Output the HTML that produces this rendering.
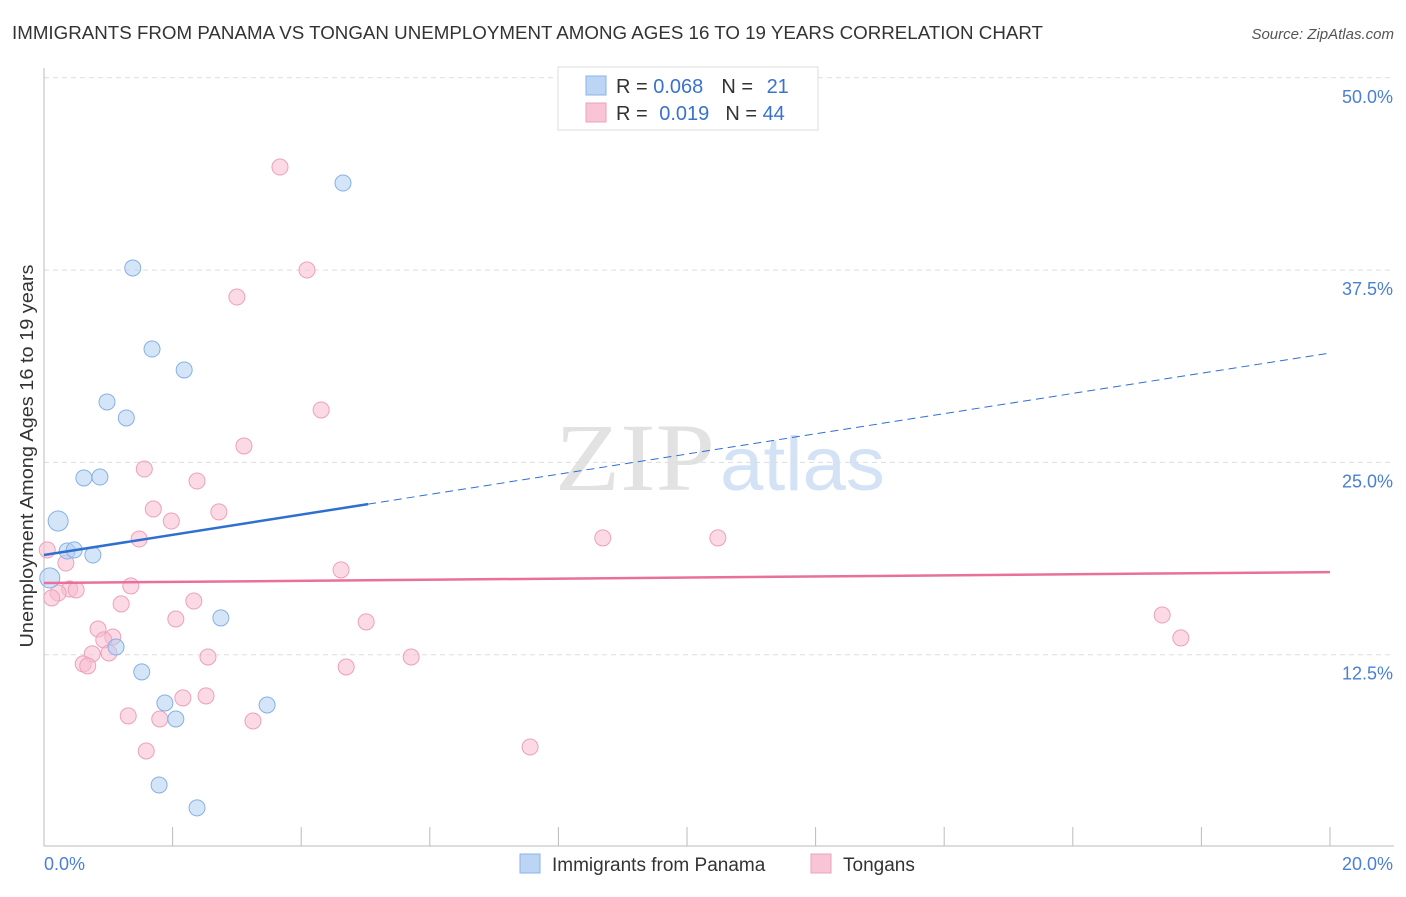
<!DOCTYPE html>
<html><head><meta charset="utf-8"><style>
body{margin:0;background:#fff;font-family:"Liberation Sans",sans-serif;}
svg text{font-family:"Liberation Sans",sans-serif;}
</style></head><body>
<svg id="chart" width="1406" height="892" xmlns="http://www.w3.org/2000/svg">
<text x="12" y="39" font-size="18" fill="#333" textLength="1031" lengthAdjust="spacingAndGlyphs">IMMIGRANTS FROM PANAMA VS TONGAN UNEMPLOYMENT AMONG AGES 16 TO 19 YEARS CORRELATION CHART</text>
<text x="1394" y="39" font-size="15" fill="#555" text-anchor="end" font-style="italic">Source: ZipAtlas.com</text>
<g>
<text x="555" y="490" font-size="96" fill="#e2e2e2" font-family="Liberation Serif" textLength="160" lengthAdjust="spacingAndGlyphs" style="font-family:'Liberation Serif',serif">ZIP</text>
<text x="720" y="490" font-size="76" fill="#d3e2f5" textLength="165" lengthAdjust="spacingAndGlyphs">atlas</text>
</g>
<g id="grid"></g>
<g id="axes"></g>
<g id="marks"></g>
<text transform="translate(33,456) rotate(-90)" font-size="18" fill="#333" text-anchor="middle" textLength="383" lengthAdjust="spacingAndGlyphs">Unemployment Among Ages 16 to 19 years</text>
<g>
<rect x="558" y="67" width="260" height="63" fill="#fff" stroke="#ddd"/>
<rect x="586" y="76" width="20" height="19" fill="#bcd5f5" stroke="#8ab4e8"/>
<rect x="586" y="103" width="20" height="19" fill="#f8c5d6" stroke="#eda0bb"/>
<text x="616" y="93" font-size="20" fill="#333">R = <tspan fill="#3a72d0">0.068</tspan><tspan dx="18">N = </tspan><tspan fill="#3a72d0" dx="8">21</tspan></text>
<text x="616" y="120" font-size="20" fill="#333">R = <tspan fill="#3a72d0" dx="6">0.019</tspan><tspan dx="16">N = </tspan><tspan fill="#3a72d0">44</tspan></text>
</g>
<g>
<rect x="520" y="854" width="20" height="19" fill="#bcd5f5" stroke="#8ab4e8"/>
<text x="552" y="871" font-size="19" fill="#333">Immigrants from Panama</text>
<rect x="811" y="854" width="20" height="19" fill="#f8c5d6" stroke="#eda0bb"/>
<text x="843" y="871" font-size="19" fill="#333">Tongans</text>
</g>
</svg>
<script>
const blueX=[4.65,1.38,1.68,2.18,0.98,1.28,0.62,0.87,0.22,0.36,0.47,0.76,0.09,2.75,1.12,1.52,1.88,2.05,3.47,1.79,2.38];
const blueY=[43.16,37.64,32.37,31.01,28.93,27.89,23.99,24.05,21.19,19.24,19.31,18.98,17.49,14.89,13.0,11.38,9.36,8.32,9.23,4.03,2.54];
const pinkX=[3.67,4.09,3.0,4.31,3.11,1.56,2.38,1.7,2.72,1.98,1.48,8.69,10.48,0.05,0.34,4.62,1.35,0.4,0.5,0.22,0.12,2.33,1.2,5.01,17.39,2.05,0.84,1.07,0.93,17.68,0.75,1.01,2.55,5.71,0.61,0.68,4.7,2.52,2.16,1.31,1.8,3.25,1.59,7.56];
const pinkY=[44.2,37.51,35.75,28.41,26.07,24.57,23.79,21.97,21.78,21.19,20.02,20.09,20.09,19.31,18.46,18.01,16.97,16.77,16.71,16.51,16.19,15.99,15.8,14.63,15.08,14.82,14.17,13.65,13.46,13.59,12.55,12.61,12.35,12.35,11.9,11.77,11.7,9.82,9.69,8.52,8.32,8.19,6.24,6.5];
const blueTrend=[18.98,32.11];
const pinkTrend=[17.16,17.87];
const yTicks=[12.5,25,37.5,50];
const yTickLabels=["12.5%","25.0%","37.5%","50.0%"];
const NS="http://www.w3.org/2000/svg";
const sx=v=>44+v*64.3, sy=v=>847-v*15.384;
function mk(tag,attrs,parent){const e=document.createElementNS(NS,tag);for(const k in attrs)e.setAttribute(k,attrs[k]);document.getElementById(parent).appendChild(e);return e;}
yTicks.forEach((t,i)=>{
 const g=mk('line',{x1:44,x2:1394,y1:sy(t),y2:sy(t),stroke:'#ddd','stroke-dasharray':'5,4'},'grid');
 
 
 const l=mk('text',{x:1393,y:sy(t)+25,'font-size':18,fill:'#4a7fd6','text-anchor':'end'},'axes');
 l.textContent=yTickLabels[i];
 
 
});
let a=mk('line',{x1:44,x2:44,y1:68,y2:846,stroke:'#bbb'},'axes');


a=mk('line',{x1:44,x2:1394,y1:846,y2:846,stroke:'#bbb'},'axes');


for(let i=1;i<=10;i++){const t=mk('line',{x1:sx(i*2),x2:sx(i*2),y1:827,y2:846,stroke:'#bbb'},'axes');
 
 }
[["0.0%",44,'start'],["20.0%",1393,'end']].forEach(d=>{const t=mk('text',{x:d[1],y:870,'font-size':18,fill:'#4a7fd6','text-anchor':d[2]},'axes');t.textContent=d[0];
 
 });
function pts(X,Y,fill,stroke,name,big){X.forEach((x,i)=>{const r=(big&&x<0.3&&Y[i]>17&&Y[i]<22)?10:8;
 const c=mk('circle',{cx:sx(x),cy:sy(Y[i]),r:r,fill:fill,'fill-opacity':0.55,stroke:stroke,'stroke-width':1},'marks');
 
 });}
pts(pinkX,pinkY,'#f7bcd0','#eda0bb','tongan-point',false);
pts(blueX,blueY,'#b2cff3','#86b0e6','panama-point',true);
const bm=5.04, bmid=blueTrend[0]+(blueTrend[1]-blueTrend[0])*bm/20;
let l=mk('line',{x1:sx(0),y1:sy(blueTrend[0]),x2:sx(bm),y2:sy(bmid),stroke:'#2f6fd0','stroke-width':2.5},'marks');


l=mk('line',{x1:sx(bm),y1:sy(bmid),x2:sx(20),y2:sy(blueTrend[1]),stroke:'#2f6fd0','stroke-width':1,'stroke-dasharray':'8,5'},'marks');


l=mk('line',{x1:sx(0),y1:sy(pinkTrend[0]),x2:sx(20),y2:sy(pinkTrend[1]),stroke:'#e8709a','stroke-width':2.5},'marks');


</script>
</body></html>
